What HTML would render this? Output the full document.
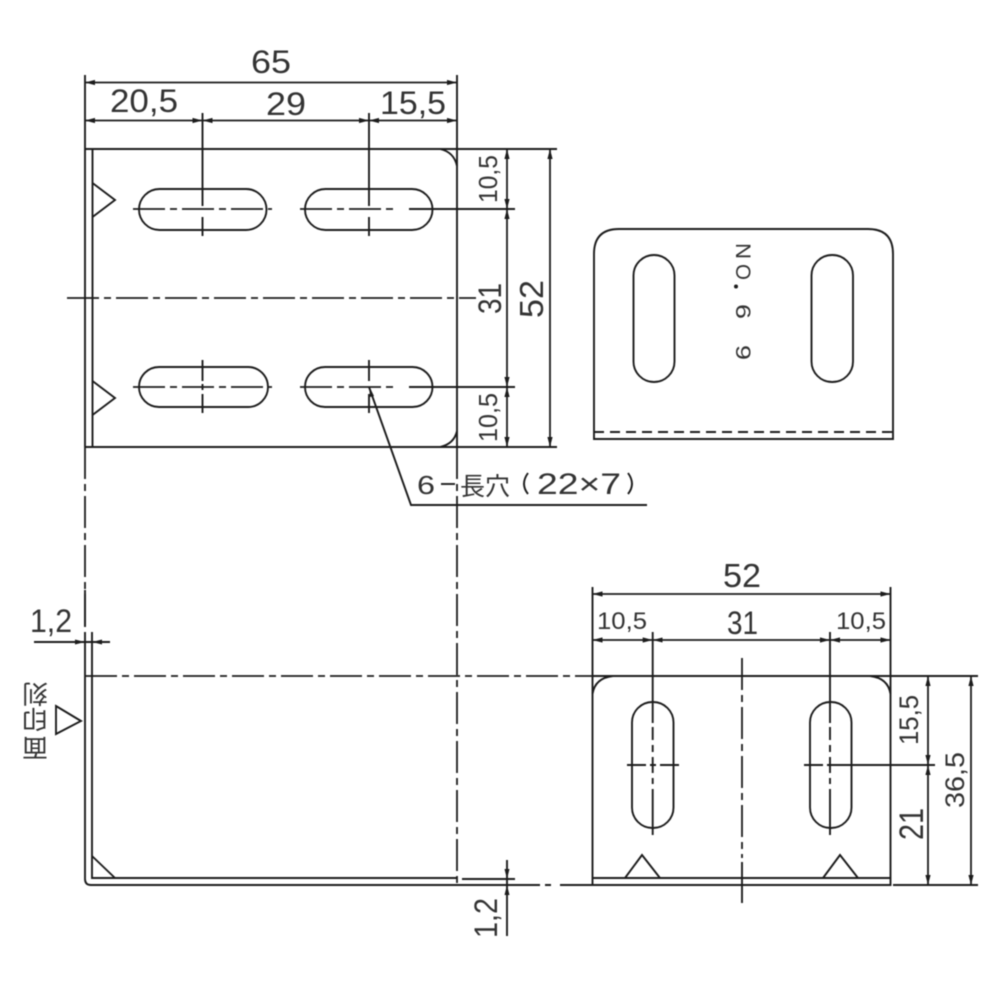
<!DOCTYPE html>
<html><head><meta charset="utf-8"><style>
html,body{margin:0;padding:0;background:#fff}
svg{display:block;filter:blur(.45px)}
text{font-family:"Liberation Sans","Noto Sans CJK JP",sans-serif;fill:#333;stroke:none}
.l{fill:none;stroke:#1c1c1c;stroke-width:1.9}
.c{fill:none;stroke:#1c1c1c;stroke-width:1.8;stroke-dasharray:32 5 7 5}
.d{fill:none;stroke:#1c1c1c;stroke-width:1.8;marker-start:url(#a);marker-end:url(#a)}
</style></head><body>
<svg xmlns="http://www.w3.org/2000/svg" width="1000" height="1000" viewBox="0 0 1000 1000">
<defs><marker id="a" markerUnits="userSpaceOnUse" markerWidth="11" markerHeight="7" refX="10" refY="3" orient="auto-start-reverse"><path d="M0 .4L10 3L0 5.6Z" fill="#1c1c1c"/></marker></defs>

<!-- TOP VIEW -->
<path class="l" d="M85 75V447M457 75V447M85 149H557M85 447H557M92.500 149V447"/>
<path class="l" d="M440 149Q454 152 457 166M440 447Q454 444 457 431"/>
<path class="l" d="M92.500 183L115 200L92.500 217M92.500 381L115 398L92.500 415"/>
<path class="d" d="M85 82.500H457"/>
<path class="d" d="M85 120.500H202.500"/><path class="d" d="M202.500 120.500H369"/><path class="d" d="M369 120.500H457"/>
<rect class="l" x="139" y="189" width="127.500" height="41" rx="20.500"/>
<rect class="l" x="305" y="189" width="127.500" height="41" rx="20.500"/>
<rect class="l" x="139" y="367" width="129" height="40" rx="20"/>
<rect class="l" x="305" y="367" width="127.500" height="40" rx="20"/>
<path class="l" d="M202.500 113V206M202.500 217V236M369 113V206M369 217V236M202.500 360V381M202.500 384V390M202.500 394V413M369 360V381M369 394V413"/>
<path class="c" d="M133 209H272"/><path class="c" d="M300 209H396"/><path class="l" d="M409 209H515"/>
<path class="c" d="M133 387H272"/><path class="c" d="M300 387H396"/><path class="l" d="M409 387H515"/>
<path class="c" d="M67 298H476"/>
<path class="d" d="M507 149V209"/><path class="d" d="M507 209V387"/><path class="d" d="M507 387V447"/>
<path class="d" d="M550 149V447"/>
<path class="l" d="M369 387L411 505H647"/>
<path d="M369 386L374 396L370 397Z" fill="#1c1c1c"/>
<path class="c" d="M457 447V885"/><path class="c" d="M85 447V628"/>

<text x="251" y="73" font-size="32" textLength="40" lengthAdjust="spacingAndGlyphs">65</text>
<text x="110" y="112" font-size="32" textLength="68" lengthAdjust="spacingAndGlyphs">20,5</text>
<text x="266" y="115" font-size="32" textLength="40" lengthAdjust="spacingAndGlyphs">29</text>
<text x="380" y="114" font-size="32" textLength="66" lengthAdjust="spacingAndGlyphs">15,5</text>
<text transform="translate(497 203) rotate(-90)" font-size="26" textLength="48" lengthAdjust="spacingAndGlyphs">10,5</text>
<text transform="translate(501 314) rotate(-90)" font-size="32" textLength="31" lengthAdjust="spacingAndGlyphs">31</text>
<text transform="translate(543 318) rotate(-90)" font-size="33" textLength="38" lengthAdjust="spacingAndGlyphs">52</text>
<text transform="translate(497 442) rotate(-90)" font-size="26" textLength="49" lengthAdjust="spacingAndGlyphs">10,5</text>
<text x="417" y="494" font-size="26" textLength="18" lengthAdjust="spacingAndGlyphs">6</text>
<path class="l" d="M441 484H455"/>
<text x="460" y="495" font-size="25" textLength="50" lengthAdjust="spacingAndGlyphs">長穴</text>
<path class="l" d="M528 473Q520 484 528 494M628 473Q636 484 628 494"/>
<text x="537" y="494" font-size="30" textLength="84" lengthAdjust="spacingAndGlyphs">22×7</text>

<!-- FRONT VIEW -->
<path class="l" d="M594 439V254Q594 229 619 229H868Q893 229 893 254V439Z"/>
<path class="l" style="stroke-dasharray:10 6" d="M594 432H893"/>
<rect class="l" x="633.500" y="255" width="41" height="127" rx="20.500"/>
<rect class="l" x="811.500" y="255" width="41.500" height="127" rx="20.500"/>
<g font-size="21">
<text transform="translate(736 243) rotate(90)" textLength="16" lengthAdjust="spacingAndGlyphs">N</text>
<text transform="translate(736 264) rotate(90)" textLength="16" lengthAdjust="spacingAndGlyphs">O</text>
<text transform="translate(736 304) rotate(90)" textLength="15" lengthAdjust="spacingAndGlyphs">6</text>
<text transform="translate(736 345) rotate(90)" textLength="15" lengthAdjust="spacingAndGlyphs">9</text>
</g>
<circle cx="736" cy="286.500" r="2" fill="#1c1c1c"/>

<!-- SIDE VIEW -->
<path class="l" d="M85 632V879Q85 885 91 885H457M457 878H92V632"/>
<path class="l" d="M85 590V627"/>
<path class="l" d="M92 856L115 878"/>
<path class="l" d="M34 642H110"/>
<path d="M85 642L75 639.500V644.500ZM92 642L102 639.500V644.500Z" fill="#1c1c1c"/>
<path class="c" d="M85 676H592"/>
<path class="l" d="M56 706L81 721L56 734Z"/>
<text x="30" y="632" font-size="32" textLength="42" lengthAdjust="spacingAndGlyphs">1,2</text>
<g font-size="25">
<text transform="translate(48 685) rotate(180)" textLength="26" lengthAdjust="spacingAndGlyphs">刻</text>
<text transform="translate(48 710) rotate(180)" textLength="26" lengthAdjust="spacingAndGlyphs">印</text>
<text transform="translate(48 739) rotate(180)" textLength="26" lengthAdjust="spacingAndGlyphs">面</text>
</g>
<path class="l" d="M462 879H515"/>
<path class="l" d="M457 885H540M545 885H551M560 885H592"/>
<path class="l" d="M507 860V936"/>
<path d="M507 879L504.500 869H509.500ZM507 885L504.500 895H509.500Z" fill="#1c1c1c"/>
<text transform="translate(497 938) rotate(-90)" font-size="32" textLength="40" lengthAdjust="spacingAndGlyphs">1,2</text>

<!-- BOTTOM RIGHT VIEW -->
<path class="l" d="M592.500 587V885H890.500V587"/>
<path class="l" d="M592 676H978M592.500 878H890.500M893 885H978"/>
<path class="l" d="M592.500 694Q595 678 613 676M890.500 694Q888 678 870 676"/>
<path class="l" d="M625 878L642 855L660 878M823 878L840 855L858 878"/>
<rect class="l" x="632" y="702" width="41.500" height="126" rx="20.500"/>
<rect class="l" x="810" y="702" width="41.500" height="126" rx="20.500"/>
<path class="l" d="M652.700 632V723M830 632V723"/>
<path class="l" d="M652.700 727V740M652.700 745V752M652.700 757V773M652.700 778V784M652.700 789V835M830 727V740M830 745V752M830 757V773M830 778V784M830 789V835"/>
<path class="l" d="M627 765H646M650 765H656M660 765H679M804 765H823M827 765H935"/>
<path class="c" d="M742 658V858"/>
<path class="l" d="M742 862V903"/>
<path class="d" d="M592.500 594H890.500"/>
<path class="d" d="M592.500 640H652.700"/><path class="d" d="M652.700 640H830"/><path class="d" d="M830 640H890.500"/>
<path class="d" d="M928 676V765"/><path class="d" d="M928 765V885"/>
<path class="d" d="M971 676V885"/>
<text x="723" y="587" font-size="33" textLength="38" lengthAdjust="spacingAndGlyphs">52</text>
<text x="597" y="629" font-size="24" textLength="50" lengthAdjust="spacingAndGlyphs">10,5</text>
<text x="727" y="634" font-size="32" textLength="31" lengthAdjust="spacingAndGlyphs">31</text>
<text x="836" y="629" font-size="24" textLength="50" lengthAdjust="spacingAndGlyphs">10,5</text>
<text transform="translate(918 745) rotate(-90)" font-size="27" textLength="50" lengthAdjust="spacingAndGlyphs">15,5</text>
<text transform="translate(923 840) rotate(-90)" font-size="34" textLength="32" lengthAdjust="spacingAndGlyphs">21</text>
<text transform="translate(964 808) rotate(-90)" font-size="27" textLength="56" lengthAdjust="spacingAndGlyphs">36,5</text>
</svg>
</body></html>
